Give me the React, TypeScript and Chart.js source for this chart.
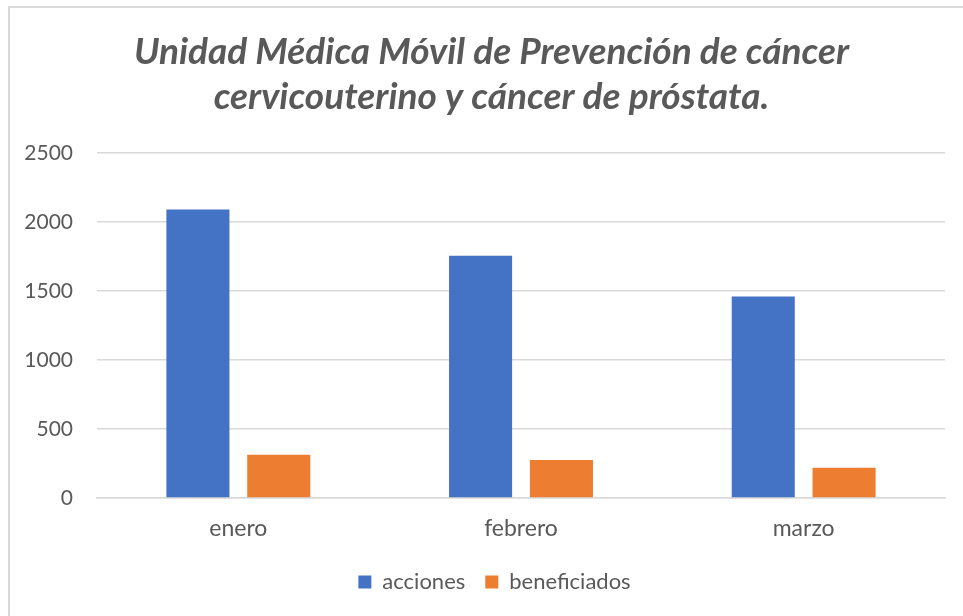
import React, { useEffect, useRef } from "react";
import { Chart, registerables } from "chart.js";

Chart.register(...registerables);

const categories = ["enero", "febrero", "marzo"];
const acciones = [2090, 1756, 1460];
const beneficiados = [314, 275, 220];
const yMin = 0;
const yMax = 2500;
const yStep = 500;
const titleLines = [
  "Unidad Médica Móvil de Prevención de cáncer",
  "cervicouterino y cáncer de próstata.",
];

const FONT = "Lato, 'Open Sans', sans-serif";
const TEXT = "#595959";
const GRID = "#d9d9d9";

const shiftBoxes = {
  id: "shiftBoxes",
  afterLayout(chart: any) {
    const t = chart.titleBlock;
    if (t) {
      t.left += 19;
      t.right += 19;
    }
    const l = chart.legend;
    if (l) {
      l.left += 22;
      l.right += 22;
    }
  },
};

export default function App() {
  const ref = useRef<HTMLCanvasElement | null>(null);

  useEffect(() => {
    if (!ref.current) return;
    const chart = new Chart(ref.current, {
      type: "bar",
      data: {
        labels: categories,
        datasets: [
          {
            label: "acciones",
            data: acciones,
            backgroundColor: "#4472C4",
            categoryPercentage: 0.572,
            barPercentage: 0.78,
          },
          {
            label: "beneficiados",
            data: beneficiados,
            backgroundColor: "#ED7D31",
            categoryPercentage: 0.572,
            barPercentage: 0.78,
          },
        ],
      },
      plugins: [shiftBoxes],
      options: {
        responsive: false,
        animation: false,
        layout: { padding: { left: 0, right: 18, top: 0, bottom: 13 } },
        plugins: {
          title: {
            display: true,
            text: titleLines,
            color: TEXT,
            font: { family: FONT, size: 37, weight: "bold", style: "italic", lineHeight: 1.216 },
            padding: { top: 30, bottom: 33 },
          },
          legend: {
            position: "bottom",
            labels: {
              boxWidth: 13,
              boxHeight: 13,
              color: TEXT,
              font: { family: FONT, size: 22 },
              padding: 20,
            },
          },
          tooltip: { enabled: false },
        },
        scales: {
          x: {
            grid: { display: false, drawTicks: false },
            border: { display: true, color: GRID, width: 1.5 },
            ticks: { color: TEXT, font: { family: FONT, size: 23 }, padding: 17 },
            afterFit: (s: any) => {
              s.height = 53;
            },
          },
          y: {
            min: yMin,
            max: yMax,
            ticks: {
              stepSize: yStep,
              color: TEXT,
              font: { family: FONT, size: 21 },
              padding: 24,
              callback: (v: any) => String(v),
            },
            grid: { color: GRID, lineWidth: 1.5, drawTicks: false },
            border: { display: false },
            afterFit: (s: any) => {
              s.width = 97;
            },
          },
        },
      },
    });
    return () => chart.destroy();
  }, []);

  return (
    <div style={{ position: "fixed", left: 0, top: 0, width: 963, height: 616, background: "#fff" }}>
      <div
        style={{
          position: "absolute",
          left: 8,
          top: 6,
          right: 0,
          bottom: 0,
          borderLeft: "2px solid #d9d9d9",
          borderTop: "2px solid #d9d9d9",
        }}
      />
      <canvas ref={ref} width={963} height={616} style={{ position: "absolute", left: 0, top: 0 }} />
    </div>
  );
}
